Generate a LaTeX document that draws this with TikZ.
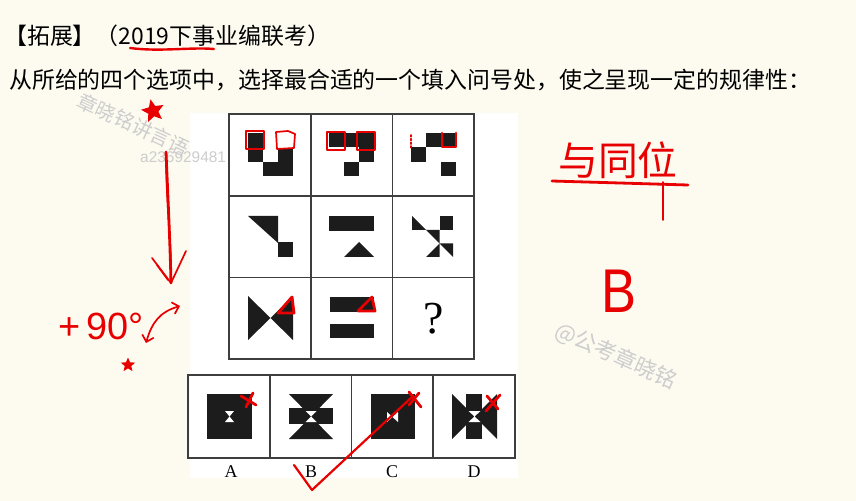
\documentclass[tikz,border=0pt]{standalone}
\usepackage{fontspec}
\setmainfont{Liberation Serif}
\setsansfont{Liberation Sans}
\newfontfamily\cjk{Noto Sans CJK SC}
\usetikzlibrary{positioning, shapes.geometric, arrows.meta}

\definecolor{paper}{RGB}{253,250,240}
\definecolor{ink}{RGB}{28,28,28}
\definecolor{pen}{RGB}{232,0,0}
\definecolor{wmark}{RGB}{205,205,205}

\begin{document}
\begin{tikzpicture}[x=1bp, y=-1bp,
            cell/.style={
                    draw=ink!85,
                    line width=1.6bp,
                    minimum width=81.7bp,
                    minimum height=81.7bp,
                    inner sep=0pt
                },
            opt/.style={
                    draw=ink!85,
                    line width=1.6bp,
                    minimum width=81.75bp,
                    minimum height=83bp,
                    inner sep=0pt
                },
            lab/.style={
                    font=\fontsize{18}{18}\selectfont,
                    inner sep=0pt
                },
            blk/.style={
                    fill=ink
                },
            hand/.style={
                    draw=pen,
                    line width=2.8bp,
                    line cap=round,
                    line join=round
                },
            thinhand/.style={
                    draw=pen,
                    line width=1.7bp,
                    line cap=round,
                    line join=round
                },
            wm/.style={
                    text=wmark,
                    inner sep=0pt
                }
        ]


        \fill[paper] (0,0) rectangle (856,501);
        \useasboundingbox (0,0) rectangle (856,501);


        \node[wm, font=\cjk\fontsize{20}{20}\selectfont, rotate=-25, anchor=west] (wm1) at (79,99) {章晓铭讲言语};


        \fill[white] (190,113) rectangle (518,478);


        \node[anchor=west, inner sep=0pt, font=\cjk\fontsize{23}{23}\selectfont] (title) at (4,36)
        {【拓展】（2019下事业编联考）};


        \node[anchor=west, inner sep=0pt, font=\cjk\fontsize{23}{23}\selectfont] (task) at (9,80)
        {从所给的四个选项中，选择最合适的一个填入问号处，使之呈现一定的规律性：};


        \node[wm, font=\sffamily\fontsize{15.5}{15.5}\selectfont, anchor=west] (wm2) at (140,157) {a236929481};


        \node[wm, font=\cjk\fontsize{22}{22}\selectfont, rotate=-24] (wm3) at (616,356) {@公考章晓铭};


        \node[cell] (c11) at (269.9,154.9) {};
        \node[cell] (c12) at (351.6,154.9) {};
        \node[cell] (c13) at (433.3,154.9) {};
        \node[cell] (c21) at (269.9,236.6) {};
        \node[cell] (c22) at (351.6,236.6) {};
        \node[cell] (c23) at (433.3,236.6) {};
        \node[cell] (c31) at (269.9,318.3) {};
        \node[cell] (c32) at (351.6,318.3) {};
        \node[cell, font=\fontsize{46}{46}\selectfont] (c33) at (433.3,318.3) {?};


        \node[opt] (oa) at (228.9,416.5) {};
        \node[opt] (ob) at (310.6,416.5) {};
        \node[opt] (oc) at (392.4,416.5) {};
        \node[opt] (od) at (474.1,416.5) {};


        \node[lab] (la) at (231,472) {A};
        \node[lab] (lb) at (311,472) {B};
        \node[lab] (lc) at (392,472) {C};
        \node[lab] (ld) at (474,472) {D};


        % first row
        \fill[blk] (248,133) rectangle (263,162);
        \fill[blk] (278,147.5) rectangle (293,176.5);
        \fill[blk] (263,162) rectangle (278,176.5);

        \fill[blk] (329,133) rectangle (374,147.5);
        \fill[blk] (359,147.5) rectangle (374,162);
        \fill[blk] (344,162) rectangle (359,176.5);

        \fill[blk] (426,133) rectangle (456,147.5);
        \fill[blk] (411,147.5) rectangle (426,162);
        \fill[blk] (441,162) rectangle (456,176.5);


        % second row
        \fill[blk] (248,216) -- (278,216) -- (278,243) -- cycle;
        \fill[blk] (278,242) rectangle (293,257);

        \fill[blk] (329,216) rectangle (374,231);
        \fill[blk] (344,257) -- (374,257) -- (359,242) -- cycle;

        \fill[blk] (439.5,216) rectangle (453,230);
        \fill[blk] (412,216) -- (412,230) -- (426,230) -- cycle;
        \fill[blk] (426,230) -- (439.5,230) -- (439.5,243.5) -- cycle;
        \fill[blk] (426,257) -- (439.5,243.5) -- (439.5,257) -- cycle;
        \fill[blk] (439.5,243.5) -- (453,243.5) -- (453,257) -- cycle;


        % third row
        \fill[blk] (248,296) -- (248,340) -- (270.5,318) -- cycle;
        \fill[blk] (293,296) -- (293,340) -- (270.5,318) -- cycle;

        \fill[blk] (330,297) rectangle (374,312);
        \fill[blk] (330,324) rectangle (374,338);


        % options
        \fill[blk] (207,394) rectangle (252,439);
        \fill[white] (225,411) -- (234,411) -- (225,422) -- (234,422) -- cycle;

        \fill[blk] (289,394) -- (333,394) -- (311,416.5) -- cycle;
        \fill[blk] (289,439) -- (333,439) -- (311,416.5) -- cycle;
        \fill[blk] (289,408) rectangle (333,424);
        \fill[white] (305.5,411) -- (316.5,411) -- (305.5,422) -- (316.5,422) -- cycle;

        \fill[blk] (371,394) rectangle (415,439);
        \fill[white] (387,412) -- (387,422) -- (398,412) -- (398,422) -- cycle;

        \fill[blk] (452,394) -- (452,439) -- (474.5,416.5) -- cycle;
        \fill[blk] (497,394) -- (497,439) -- (474.5,416.5) -- cycle;
        \fill[blk] (466,394) rectangle (482,439);
        \fill[white] (468.5,411) -- (480.5,411) -- (468.5,422) -- (480.5,422) -- cycle;


        % red marks
        \draw[hand] (246,131) rectangle (264,149);
        \draw[thinhand, fill=white] (276,132) -- (288,131) -- (295,134) -- (294,148) -- (277,149) -- cycle;
        \draw[hand] (327,132) rectangle (345,150);
        \draw[hand] (357,132) rectangle (375,150);
        \draw[hand] (442,133) -- (442,147) -- (456,147) -- (456,133);
        \draw[thinhand, dotted] (411,135) -- (411,148);

        \draw[hand] (278,313) -- (292,297) -- (294,313) -- cycle;
        \draw[hand] (358,311) -- (372,297) -- (375,311) -- cycle;

        \draw[hand] (241,396) -- (256,405);
        \draw[hand] (246,407) -- (253,393);
        \draw[hand] (409,392) -- (421,407);
        \draw[hand] (409,405) -- (419,393);
        \draw[hand] (487,396) -- (498,409);
        \draw[hand] (486,411) -- (500,395);


        \coordinate (k1) at (294,465);
        \coordinate (k2) at (312,490);
        \coordinate (k3) at (413,396);
        \draw[thinhand, line width=2.2bp] (k1) -- (k2) -- (k3);


        \node[star, star points=5, star point ratio=2.2, fill=pen, minimum size=24bp, inner sep=0pt, rotate=12] (st1) at (153,111) {};
        \node[star, star points=5, star point ratio=2.2, fill=pen, minimum size=15bp, inner sep=0pt] (st2) at (128,365) {};


        \coordinate (v1) at (166,152);
        \coordinate (v2) at (171,283);
        \draw[hand] (v1) .. controls (168,200) and (170,240) .. (v2);
        \draw[thinhand] (v1) .. controls (166,205) and (172,245) .. (v2);
        \draw[thinhand] (152,258) -- (v2) -- (186,251);
        \draw[thinhand] (157,265) -- (168,280);


        \node[text=pen, font=\sffamily\fontsize{38}{38}\selectfont, inner sep=0pt, anchor=base west] (deg) at (58,340) {+\,90°};


        \coordinate (r1) at (146,343);
        \coordinate (r2) at (180,306);
        \draw[thinhand, {Straight Barb[length=6bp]}-{Straight Barb[length=6bp]}] (r1) .. controls (152,322) and (160,312) .. (r2);


        \node[text=pen, font=\cjk\fontsize{40}{40}\selectfont, inner sep=0pt] (rule) at (618,160) {与同位};
        \coordinate (u1) at (552,181);
        \coordinate (u2) at (688,185);
        \draw[hand] (u1) -- (u2);
        \draw[thinhand] (663,182) -- (663,220);


        \node[text=pen, font=\sffamily\fontsize{62}{62}\selectfont, inner sep=0pt, xscale=0.85] (ans) at (619,291) {B};


        \coordinate (t1) at (130,48);
        \coordinate (t2) at (214,49);
        \draw[thinhand, line width=2.4bp] (t1) .. controls (160,52) and (190,47) .. (t2);


    \end{tikzpicture}
\end{document}
